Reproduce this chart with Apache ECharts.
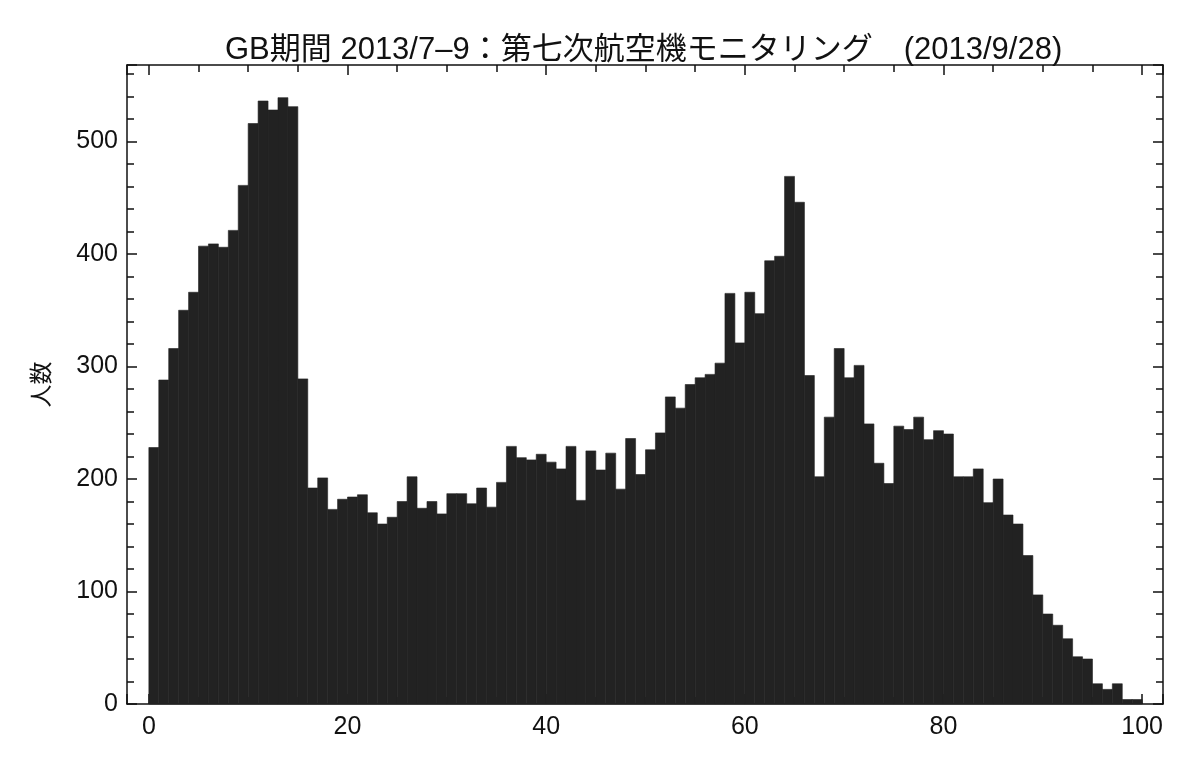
<!DOCTYPE html>
<html>
<head>
<meta charset="utf-8">
<script src="https://cdn.jsdelivr.net/npm/echarts@6/dist/echarts.min.js"></script>
<style>
html,body{margin:0;padding:0;background:#fff;}
#chart{width:1200px;height:759px;}
</style>
</head>
<body>
<div id="chart"></div>
<script>
// Title and axis texts
const titleText = 'GB期間 2013/7–9：第七次航空機モニタリング　(2013/9/28)';
const yName = '人数';

// Histogram bins: age 0..99, 1 year wide
const binStart = 0;
const binWidth = 1;
// Counts per age bin
const counts = [
  228, 288, 316, 350, 366, 407, 409, 406, 421, 461,
  516, 536, 528, 539, 531, 289, 192, 201, 173, 182,
  184, 186, 170, 160, 166, 180, 202, 174, 180, 169,
  187, 187, 178, 192, 175, 197, 229, 219, 217, 222,
  215, 209, 229, 181, 225, 208, 223, 191, 236, 204,
  226, 241, 273, 263, 284, 290, 293, 303, 365, 321,
  366, 347, 394, 398, 469, 446, 292, 202, 255, 316,
  290, 301, 249, 214, 196, 247, 244, 255, 235, 243,
  240, 202, 202, 209, 179, 200, 168, 160, 132, 97,
  80, 70, 58, 42, 40, 18, 13, 18, 4, 4
];

// Axis ranges
const xMin = -2.2, xMax = 102.1;
const yMin = 0, yMax = 568, yInterval = 100;

const data = counts.map((v, i) => [binStart + i * binWidth, v]);

const FONT = '"Liberation Sans", Arial, "Noto Sans CJK JP", sans-serif';
const BAR = '#222222';

function xAxisCfg(pos, showLabels) {
  return {
    type: 'value', position: pos, min: xMin, max: xMax, splitNumber: 5,
    axisLine: { show: true, onZero: false, lineStyle: { color: '#111', width: 1.5 } },
    axisTick: { show: true, inside: true, length: 10, lineStyle: { color: '#111', width: 1.5 } },
    minorTick: { show: true, splitNumber: 4, length: 7, lineStyle: { color: '#111', width: 1.5 } },
    splitLine: { show: false },
    axisLabel: { show: showLabels, fontSize: 25, color: '#111', fontFamily: FONT, margin: 11,
                 showMinLabel: false, showMaxLabel: false }
  };
}
function yAxisCfg(pos, showLabels) {
  const c = {
    type: 'value', position: pos, min: yMin, max: yMax, interval: yInterval,
    axisLine: { show: true, onZero: false, lineStyle: { color: '#111', width: 1.5 } },
    axisTick: { show: true, inside: true, length: 10, lineStyle: { color: '#111', width: 1.5 } },
    minorTick: { show: true, splitNumber: 5, length: 7, lineStyle: { color: '#111', width: 1.5 } },
    splitLine: { show: false },
    axisLabel: { show: showLabels, fontSize: 25, color: '#111', fontFamily: FONT, margin: 9,
                 showMaxLabel: false }
  };
  if (showLabels) {
    c.name = yName;
    c.nameLocation = 'middle';
    c.nameGap = 73;
    c.nameRotate = 90;
    c.nameTextStyle = { fontSize: 23, color: '#111', fontFamily: FONT };
  }
  return c;
}

const chart = echarts.init(document.getElementById('chart'), null, { renderer: 'canvas' });
chart.setOption({
  animation: false,
  backgroundColor: '#fff',
  title: {
    text: titleText, left: 220, top: 30,
    textStyle: { fontSize: 31, fontWeight: 'normal', color: '#111', fontFamily: FONT }
  },
  grid: { left: 127, right: 37, top: 65, bottom: 55, containLabel: false },
  xAxis: [xAxisCfg('bottom', true), xAxisCfg('top', false)],
  yAxis: [yAxisCfg('left', true), yAxisCfg('right', false)],
  series: [{
    type: 'custom',
    xAxisIndex: 0, yAxisIndex: 0,
    encode: { x: 0, y: 1 },
    data: data,
    z: 3,
    renderItem: function (params, api) {
      const x = api.value(0), v = api.value(1);
      const p0 = api.coord([x, v]);
      const p1 = api.coord([x + binWidth, 0]);
      return {
        type: 'rect',
        shape: { x: p0[0], y: p0[1], width: p1[0] - p0[0], height: p1[1] - p0[1] },
        style: { fill: BAR, stroke: BAR, lineWidth: 0.6 }
      };
    }
  }]
});
</script>
</body>
</html>
